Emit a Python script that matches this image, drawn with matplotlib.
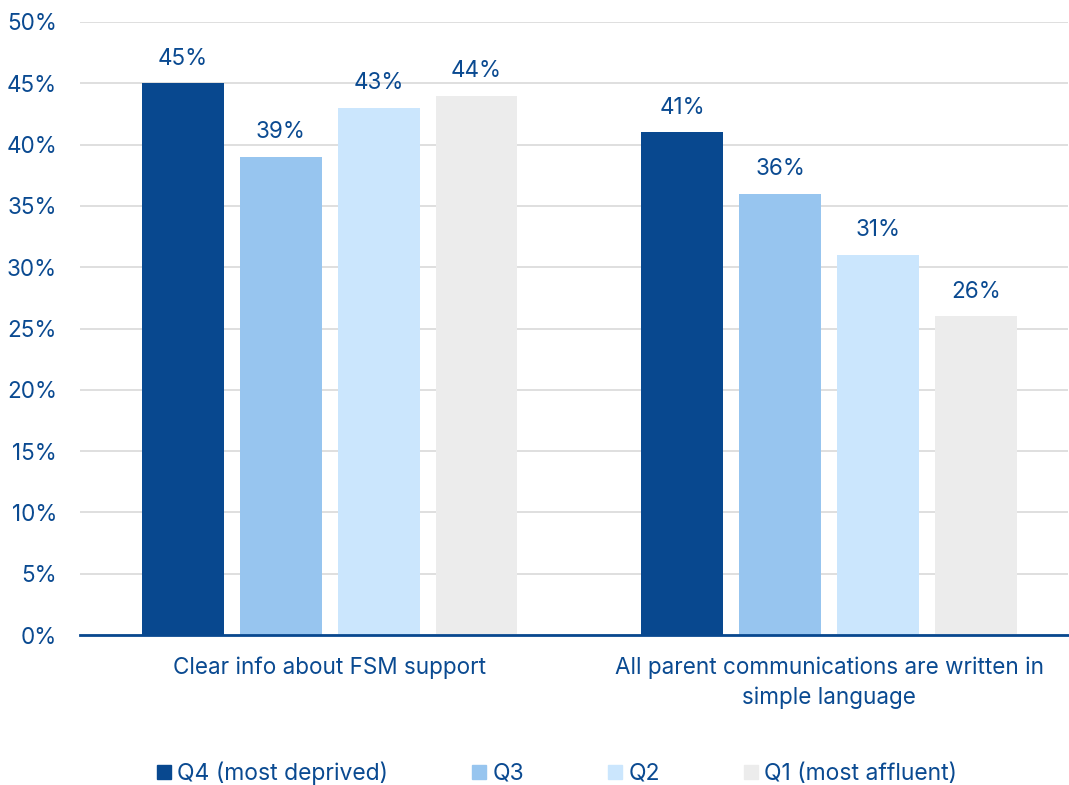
import matplotlib
matplotlib.use("Agg")
import matplotlib.pyplot as plt
from matplotlib.lines import Line2D
import numpy as np

plt.rcParams['font.family'] = ['Inter', 'DejaVu Sans']

categories = ["Clear info about FSM support",
              "All parent communications are written in\nsimple language"]
series_names = ["Q4 (most deprived)", "Q3", "Q2", "Q1 (most affluent)"]
values = {
    "Q4 (most deprived)": [45, 41],
    "Q3": [39, 36],
    "Q2": [43, 31],
    "Q1 (most affluent)": [44, 26],
}
colors = ["#08488f", "#97c5ef", "#cbe6fd", "#ececec"]
text_color = "#0a4a91"
fs = 16.2

fig = plt.figure(figsize=(10.69, 7.85), dpi=100)
ax = fig.add_axes([0.0748, 0.191, 0.924, 0.781])

x = np.arange(len(categories))
width = 0.164
step = 0.196
offsets = (np.arange(len(series_names)) - 1.5) * step

for i, name in enumerate(series_names):
    bars = ax.bar(x + offsets[i], values[name], width, color=colors[i], zorder=2)
    for b, v in zip(bars, values[name]):
        ax.text(b.get_x() + b.get_width() / 2, v + 1.1, f"{v}%", ha="center", va="bottom",
                fontsize=fs, color=text_color)

ax.set_xlim(-0.5, 1.478)
ax.set_ylim(0, 50)
ax.set_yticks(np.arange(0, 51, 5))
ax.set_yticklabels([f"{t}%" for t in range(0, 51, 5)], fontsize=fs, color=text_color)
ax.yaxis.grid(True, color="#d9d9d9", linewidth=1.2, zorder=0)
ax.set_axisbelow(True)
ax.tick_params(axis="y", length=0, pad=16.5)
ax.tick_params(axis="x", length=0, pad=15.5)
ax.set_xticks(x)
ax.set_xticklabels(categories, fontsize=fs, color=text_color, linespacing=1.45)
for s in ["top", "right", "left"]:
    ax.spines[s].set_visible(False)
ax.spines["bottom"].set_color("#08488f")
ax.spines["bottom"].set_linewidth(2)
ax.spines["bottom"].set_zorder(3)

handles = [Line2D([0], [0], marker="s", linestyle="none", markersize=10,
                  markerfacecolor=c, markeredgecolor=c) for c in colors]
fig.legend(handles, series_names, loc="center", bbox_to_anchor=(0.519, 0.015),
           ncol=4, frameon=False, fontsize=16.5, labelcolor=text_color,
           handletextpad=0.1, columnspacing=3.45, handlelength=1.0)

fig.savefig("out.png", dpi=100)
